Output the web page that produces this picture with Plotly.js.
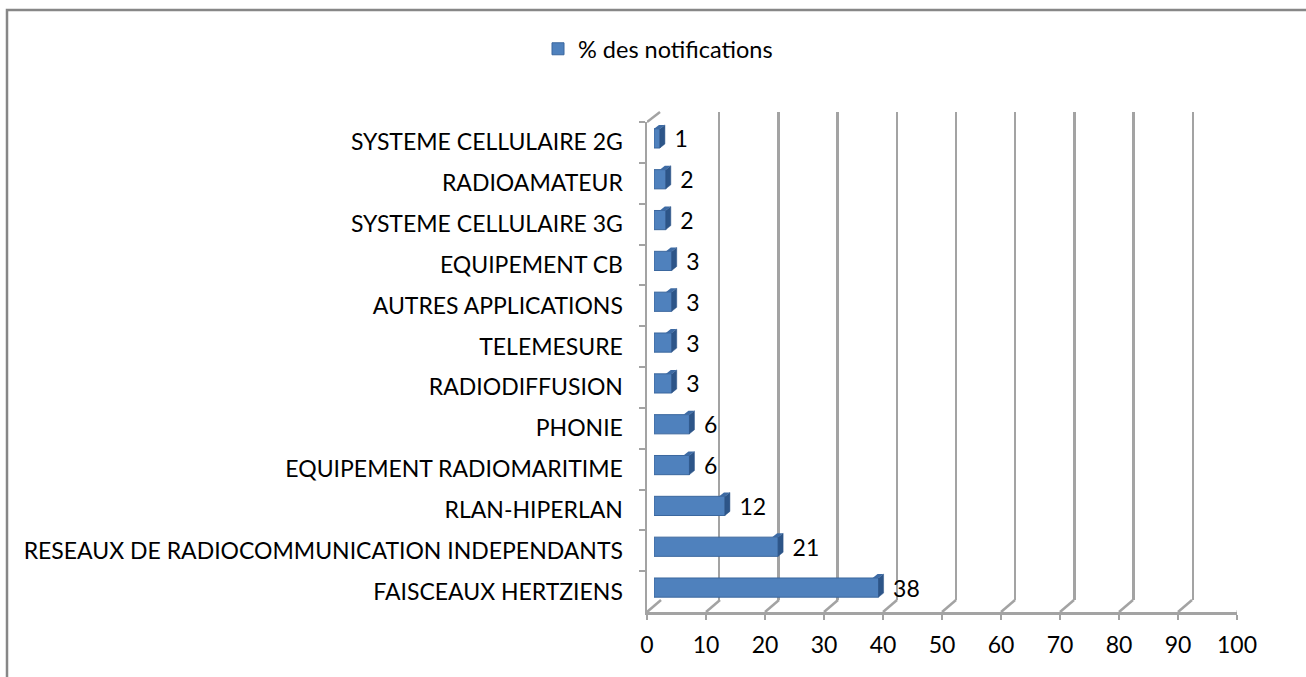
<!DOCTYPE html>
<html><head><meta charset="utf-8">
<script src="https://cdn.plot.ly/plotly-3.0.1.min.js"></script>
<style>html,body{margin:0;padding:0;background:#fff}#chart{width:1306px;height:677px}</style>
</head><body><div id="chart"></div>
<script>
const categories = ["SYSTEME CELLULAIRE 2G","RADIOAMATEUR","SYSTEME CELLULAIRE 3G","EQUIPEMENT CB","AUTRES APPLICATIONS","TELEMESURE","RADIODIFFUSION","PHONIE","EQUIPEMENT RADIOMARITIME","RLAN-HIPERLAN","RESEAUX DE RADIOCOMMUNICATION INDEPENDANTS","FAISCEAUX HERTZIENS"];
const values = [1,2,2,3,3,3,3,6,6,12,21,38];
const seriesName = "% des notifications";
const xTicks = [0,10,20,30,40,50,60,70,80,90,100];

const W = 1306, H = 677;
const px = v => v / W, py = v => (H - v) / H;
const FONT = "Lato, 'Open Sans', sans-serif";
const FS = 23;
const GRID = "#a3a3a3";

// front plane (pixel)
const fL = 647, fR = 1237, fT = 122, fB = 612;
// back plane offset
const bdx = 14, bdy = 12;
// bar plane offset
const mdx = 7, mdy = 4;

const n = categories.length;
const yRange = [n - 0.5, -0.5];

const shapes = [];
// outer border
shapes.push({type:"rect", xref:"paper", yref:"paper", x0:px(7), x1:px(1320), y0:py(10), y1:py(700), line:{color:"#878787", width:2.5}, layer:"below"});
// floor diagonals
xTicks.forEach(v => {
  shapes.push({type:"line", xref:"x", xsizemode:"pixel", xanchor:v, x0:0, x1:bdx,
    yref:"paper", ysizemode:"pixel", yanchor:py(fB), y0:0, y1:bdy, line:{color:GRID, width:2.5}});
});
// top-left diagonal
shapes.push({type:"line", xref:"x", xsizemode:"pixel", xanchor:0, x0:0, x1:bdx-1,
  yref:"paper", ysizemode:"pixel", yanchor:py(fT), y0:0, y1:bdy-2, line:{color:GRID, width:2.5}});
// bar side and top faces
const hh = 9.5, sdx = 5, sdy = 4;
values.forEach((v, i) => {
  shapes.push({type:"path", xref:"x3", xsizemode:"pixel", xanchor:v,
    yref:"y3", ysizemode:"pixel", yanchor:i,
    path:`M0,${-hh} L${sdx},${-hh+sdy} L${sdx},${hh+sdy} L0,${hh} Z`,
    fillcolor:"#2d5588", line:{color:"#2d5588", width:0.5}});
  shapes.push({type:"path", xref:"x3", xsizemode:"pixel", xanchor:v,
    yref:"y3", ysizemode:"pixel", yanchor:i,
    path:`M0,${hh} L${sdx},${hh+sdy} L${sdx-6},${hh+sdy} L-6,${hh} Z`,
    fillcolor:"#3d6aa3", line:{width:0}});
});

const traces = [
  {type:"bar", orientation:"h", x:values, y:categories, xaxis:"x3", yaxis:"y3", name:seriesName,
   marker:{color:"#4f81bd", line:{color:"#3b679e", width:1}}, width:0.47,
   text:values.map(v => "\u2002" + v), textposition:"outside", cliponaxis:false, constraintext:"none",
   textfont:{family:FONT, size:FS, color:"#000"}, hoverinfo:"x+y"},
  {type:"bar", orientation:"h", x:values.map(()=>null), y:categories, xaxis:"x", yaxis:"y", showlegend:false, hoverinfo:"skip"},
  {type:"scatter", x:[0,100], y:[categories[0], categories[n-1]], xaxis:"x2", yaxis:"y2", mode:"none", showlegend:false, hoverinfo:"skip"}
];

const layout = {
  width:W, height:H, margin:{l:0,r:0,t:0,b:0},
  paper_bgcolor:"#fff", plot_bgcolor:"rgba(0,0,0,0)",
  font:{family:FONT, size:FS, color:"#000"},
  showlegend:true,
  legend:{orientation:"h", x:px(538), xanchor:"left", y:py(49), yanchor:"middle", font:{family:FONT, size:23.5, color:"#000"}, itemwidth:30},
  barmode:"overlay",
  xaxis:{domain:[px(fL), px(fR)], range:[0,100], tickvals:xTicks, showgrid:false, zeroline:false,
    showline:true, linecolor:GRID, linewidth:2.5, ticks:"outside", ticklen:5, tickcolor:GRID, tickwidth:2,
    anchor:"y", tickfont:{family:FONT, size:FS, color:"#000"}, ticklabelstandoff:6, fixedrange:true},
  yaxis:{domain:[py(fB), py(fT)], type:"category", categoryorder:"array", categoryarray:categories, range:yRange,
    showgrid:false, zeroline:false, showline:true, linecolor:GRID, linewidth:2.5,
    ticks:"outside", tickson:"boundaries", ticklen:6, tickcolor:GRID, tickwidth:2,
    anchor:"x", tickfont:{family:FONT, size:FS, color:"#000"}, ticklabelstandoff:17, fixedrange:true},
  xaxis2:{domain:[px(fL+13), px(fR+15)], range:[0,100], tickvals:xTicks, showgrid:true, gridcolor:GRID, gridwidth:2.5,
    showticklabels:false, zeroline:false, showline:false, anchor:"y2", fixedrange:true},
  yaxis2:{domain:[py(fB-bdy), py(fT-10)], type:"category", categoryarray:categories, range:yRange,
    showgrid:false, showticklabels:false, zeroline:false, showline:false, anchor:"x2", fixedrange:true},
  xaxis3:{domain:[px(fL+mdx), px(fR+mdx+1)], range:[0,100], showgrid:false, showticklabels:false, zeroline:false, showline:false, anchor:"y3", fixedrange:true},
  yaxis3:{domain:[py(fB-mdy), py(fT-mdy)], type:"category", categoryorder:"array", categoryarray:categories, range:yRange,
    showgrid:false, showticklabels:false, zeroline:false, showline:false, anchor:"x3", fixedrange:true},
  shapes:shapes
};

Plotly.newPlot("chart", traces, layout, {displayModeBar:false, staticPlot:true});
</script></body></html>
